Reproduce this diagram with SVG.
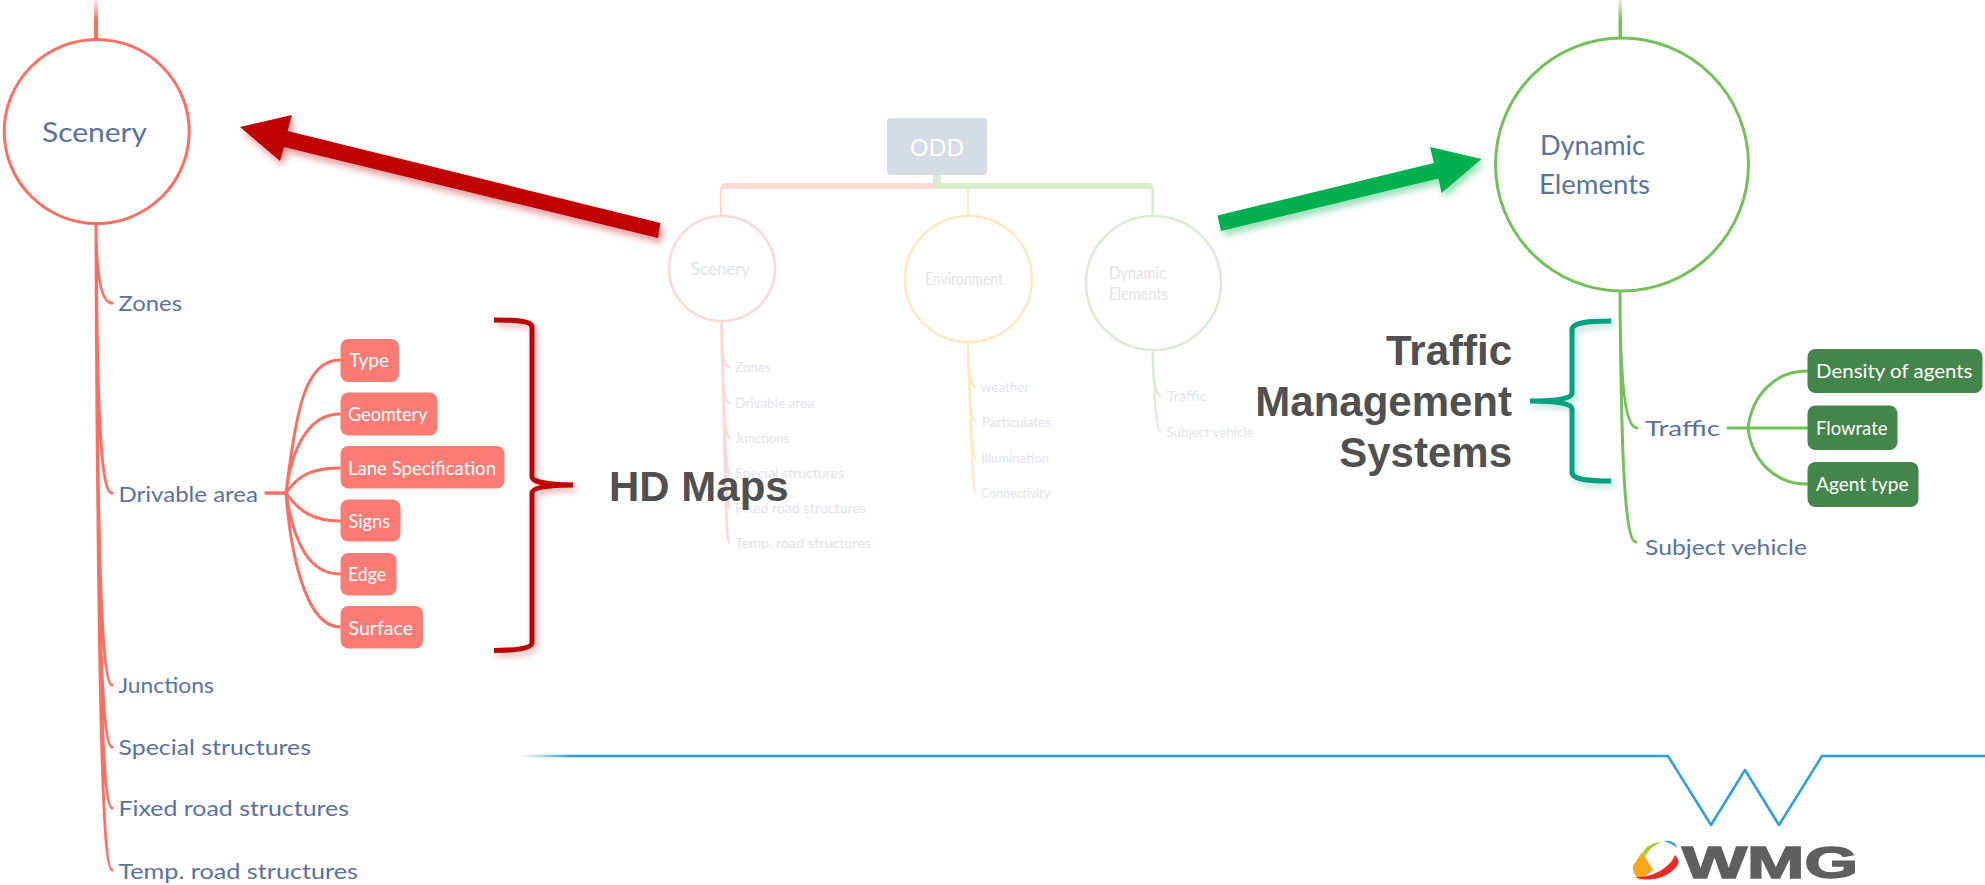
<svg xmlns="http://www.w3.org/2000/svg" width="1985" height="885" viewBox="0 0 1985 885">
<style>
text{font-family:"Lato","Open Sans","Liberation Sans",sans-serif}
.lab{font-size:22px;fill:#5a72a0}
.big{font-size:27px;fill:#5a72a0}
.boxt{font-size:20px;fill:#fff}
.faint{font-size:13.5px;fill:#dfe3ec}
.faintc{font-size:17px;fill:#dfe3ec}
.call{font-family:"Liberation Sans",Arial,sans-serif;font-size:42px;font-weight:700;fill:#505050}
.r{fill:none;stroke:#ff6f61;stroke-width:3;stroke-linecap:round}
.g{fill:none;stroke:#74c05a;stroke-width:3;stroke-linecap:round}
.pr{fill:none;stroke:#fdd8d4;stroke-width:2.5}
.py{fill:none;stroke:#fee9c0;stroke-width:2.5}
.pg{fill:none;stroke:#d9eed0;stroke-width:2.5}
.rb{fill:#fc7b74}
.gb{fill:#43854a}
</style>
<defs>
<filter id="sr" x="-10%" y="-30%" width="120%" height="170%"><feDropShadow dx="3" dy="5" stdDeviation="3.5" flood-color="#c00000" flood-opacity=".4"/></filter>
<filter id="sg" x="-10%" y="-30%" width="120%" height="170%"><feDropShadow dx="3" dy="5" stdDeviation="3.5" flood-color="#00b050" flood-opacity=".4"/></filter>
<filter id="srb" x="-30%" y="-10%" width="160%" height="120%"><feDropShadow dx="3" dy="4" stdDeviation="3" flood-color="#c00000" flood-opacity=".3"/></filter>
<filter id="st" x="-30%" y="-10%" width="160%" height="120%"><feDropShadow dx="3" dy="4" stdDeviation="3" flood-color="#00a080" flood-opacity=".3"/></filter>
<linearGradient id="fadeb" gradientUnits="userSpaceOnUse" x1="520" y1="0" x2="570" y2="0"><stop offset="0" stop-color="#2a9fe0" stop-opacity="0"/><stop offset="1" stop-color="#2a9fe0"/></linearGradient>
<linearGradient id="fader" x1="0" y1="0" x2="0" y2="1"><stop offset="0" stop-color="#ff6f61" stop-opacity=".15"/><stop offset=".5" stop-color="#ff6f61"/></linearGradient>
<linearGradient id="fadeg" x1="0" y1="0" x2="0" y2="1"><stop offset="0" stop-color="#74c05a" stop-opacity=".15"/><stop offset=".5" stop-color="#74c05a"/></linearGradient>
</defs>

<g id="connectors">
<path d="M933 183H726q-5 0-5 5v1h212z" fill="#fdd8d4"/>
<path d="M721 188V216" class="pr"/>
<path d="M933 175h8v8h207q6 0 6 6h-221z" fill="#d9eed0"/>
<path d="M1152.600 189V216" class="pg"/>
<path d="M968 189V216" class="py"/>
<path d="M721.600 321C721 350 722 367 730 367M721.600 321C722 380 723 403 730 403M721.600 321C723 400 724 438 730 438M721.600 321C724 420 725 473 730 473M721.600 321C725 440 725 508 730 508M721.600 321C725 460 725 543 730 543" class="pr"/>
<path d="M968 342C968 365 970 387 976 387M968 342C969 390 970 422 976 422M968 342C970 410 971 458 976 458M968 342C971 430 972 493 976 493" class="py"/>
<path d="M1152.600 350C1153 375 1155 396 1161 396M1152.600 350C1154 390 1156 432 1161 432" class="pg"/>
<rect x="94" y="0" width="4" height="40" fill="url(#fader)"/>
<path d="M96 224C96 270 100 303 112 303M96 224C97 400 100 493 112 493M96 224C97 500 100 685 112 685M96 224C97 560 100 747 112 747M96 224C98 620 101 808 112 808M96 224C98 680 102 870 112 870" class="r"/>
<path d="M266 493H286" class="r" style="stroke-width:3.500"/>
<path d="M286 493C296 410 305 360 340 360M286 493C292 445 310 414 340 414M286 493C298 475 312 468 340 468M286 493C298 510 312 521 340 521M286 493C294 545 310 574 340 574M286 493C292 570 310 627 340 627" class="r"/>
<rect x="1618.500" y="0" width="3.500" height="38" fill="url(#fadeg)"/>
<path d="M1620 291C1620 370 1624 428 1637 428M1620 291C1621 440 1624 542 1636 542" class="g"/>
<path d="M1728 428H1807M1748 428C1752 395 1775 371 1807 371M1748 428C1752 461 1775 484 1807 484" class="g"/>
</g>

<g id="overview-faded">
<g id="odd"><rect x="887" y="118" width="100" height="57" rx="4" fill="#d6dce6"/><text x="937" y="156" font-size="23" fill="#fff" text-anchor="middle" textLength="54" lengthAdjust="spacing">ODD</text></g>
<g id="o-scenery"><ellipse cx="722" cy="268.500" rx="53" ry="52.500" class="pr" fill="#fff"/><text x="691" y="275" class="faintc" textLength="59" lengthAdjust="spacingAndGlyphs">Scenery</text></g>
<g id="o-environment"><ellipse cx="968.500" cy="279" rx="63.500" ry="63" class="py" fill="#fff"/><text x="925" y="285" class="faintc" textLength="78" lengthAdjust="spacingAndGlyphs">Environment</text></g>
<g id="o-dynamic"><ellipse cx="1153.500" cy="283" rx="67.500" ry="67" class="pg" fill="#fff"/><text x="1109" y="279" class="faintc" textLength="57" lengthAdjust="spacingAndGlyphs">Dynamic</text><text x="1109" y="300" class="faintc" textLength="59" lengthAdjust="spacingAndGlyphs">Elements</text></g>
<g id="o-labels">
<text x="735" y="372" class="faint" textLength="36" lengthAdjust="spacingAndGlyphs">Zones</text>
<text x="735" y="408" class="faint" textLength="79" lengthAdjust="spacingAndGlyphs">Drivable area</text>
<text x="735" y="443" class="faint" textLength="54" lengthAdjust="spacingAndGlyphs">Junctions</text>
<text x="735" y="478" class="faint" textLength="109" lengthAdjust="spacingAndGlyphs">Special structures</text>
<text x="735" y="513" class="faint" textLength="131" lengthAdjust="spacingAndGlyphs">Fixed road structures</text>
<text x="735" y="548" class="faint" textLength="136" lengthAdjust="spacingAndGlyphs">Temp. road structures</text>
<text x="981" y="392" class="faint" textLength="48" lengthAdjust="spacingAndGlyphs">weather</text>
<text x="982" y="427" class="faint" textLength="69" lengthAdjust="spacingAndGlyphs">Particulates</text>
<text x="981" y="463" class="faint" textLength="68" lengthAdjust="spacingAndGlyphs">Illumination</text>
<text x="981" y="498" class="faint" textLength="69" lengthAdjust="spacingAndGlyphs">Connectivity</text>
<text x="1166.500" y="401" class="faint" textLength="40" lengthAdjust="spacingAndGlyphs">Traffic</text>
<text x="1166.500" y="437" class="faint" textLength="87" lengthAdjust="spacingAndGlyphs">Subject vehicle</text>
</g>
</g>

<g id="scenery"><ellipse cx="96.700" cy="131.500" rx="92.500" ry="92" fill="#fff" stroke="#ff6f61" stroke-width="3"/><text x="42" y="142" class="big" textLength="105" lengthAdjust="spacingAndGlyphs">Scenery</text></g>
<g id="zones"><text x="118.500" y="311" class="lab" textLength="63.500" lengthAdjust="spacingAndGlyphs">Zones</text></g>
<g id="drivable-area"><text x="118.500" y="502" class="lab" textLength="139.500" lengthAdjust="spacingAndGlyphs">Drivable area</text></g>
<g id="junctions"><text x="118.500" y="693" class="lab" textLength="95.500" lengthAdjust="spacingAndGlyphs">Junctions</text></g>
<g id="special-structures"><text x="118.500" y="755" class="lab" textLength="192.500" lengthAdjust="spacingAndGlyphs">Special structures</text></g>
<g id="fixed-road-structures"><text x="118.500" y="816" class="lab" textLength="230.500" lengthAdjust="spacingAndGlyphs">Fixed road structures</text></g>
<g id="temp-road-structures"><text x="118.500" y="879" class="lab" textLength="239.500" lengthAdjust="spacingAndGlyphs">Temp. road structures</text></g>

<g id="type"><rect x="340.500" y="339" width="58.500" height="43" rx="8" class="rb"/><text x="349" y="367" class="boxt" textLength="40" lengthAdjust="spacingAndGlyphs">Type</text></g>
<g id="geomtery"><rect x="340.500" y="392.500" width="97" height="43" rx="8" class="rb"/><text x="348" y="421" class="boxt" textLength="79.500" lengthAdjust="spacingAndGlyphs">Geomtery</text></g>
<g id="lane-specification"><rect x="340.500" y="446" width="164" height="42.500" rx="8" class="rb"/><text x="348" y="475" class="boxt" textLength="148" lengthAdjust="spacingAndGlyphs">Lane Specification</text></g>
<g id="signs"><rect x="340.500" y="499.500" width="60" height="42" rx="8" class="rb"/><text x="348.500" y="528" class="boxt" textLength="41.500" lengthAdjust="spacingAndGlyphs">Signs</text></g>
<g id="edge"><rect x="340.500" y="553" width="56" height="42.500" rx="8" class="rb"/><text x="348" y="581" class="boxt" textLength="38" lengthAdjust="spacingAndGlyphs">Edge</text></g>
<g id="surface"><rect x="340.500" y="606" width="82.500" height="42.500" rx="8" class="rb"/><text x="348.500" y="635" class="boxt" textLength="64.500" lengthAdjust="spacingAndGlyphs">Surface</text></g>

<g id="dynamic-elements"><ellipse cx="1622" cy="164.500" rx="126.500" ry="126.500" fill="#fff" stroke="#74c05a" stroke-width="3"/><text x="1540" y="155" class="big" textLength="105" lengthAdjust="spacingAndGlyphs">Dynamic</text><text x="1539" y="194" class="big" textLength="111" lengthAdjust="spacingAndGlyphs">Elements</text></g>
<g id="traffic"><text x="1645" y="436" class="lab" textLength="75" lengthAdjust="spacingAndGlyphs">Traffic</text></g>
<g id="subject-vehicle"><text x="1645" y="555" class="lab" textLength="162" lengthAdjust="spacingAndGlyphs">Subject vehicle</text></g>
<g id="density-of-agents"><rect x="1807.500" y="349" width="175" height="44" rx="8" class="gb"/><text x="1816" y="378" class="boxt" textLength="156.500" lengthAdjust="spacingAndGlyphs">Density of agents</text></g>
<g id="flowrate"><rect x="1807.500" y="405.500" width="90" height="44.500" rx="8" class="gb"/><text x="1816" y="435" class="boxt" textLength="71.500" lengthAdjust="spacingAndGlyphs">Flowrate</text></g>
<g id="agent-type"><rect x="1807.500" y="462" width="111" height="45" rx="8" class="gb"/><text x="1816" y="491" class="boxt" textLength="92.500" lengthAdjust="spacingAndGlyphs">Agent type</text></g>

<g id="footer">
<path d="M570 756H1668L1711 825L1745 770L1779 825L1822 756H1985" fill="none" stroke="#2a9fe0" stroke-width="2.500" stroke-linejoin="round"/>
<rect x="520" y="754.750" width="50" height="2.500" fill="url(#fadeb)"/>
</g>
<g id="wmg-logo">
<path d="M1633 866L1642 852L1653 870L1640 880Q1632 874 1633 866Z" fill="#faa61a"/>
<path d="M1635 877C1652 878 1670 868 1675 855Q1680 860 1678 864C1672 876 1650 884 1635 877Z" fill="#ee2a24"/>
<path d="M1643 853C1644 848 1652 842 1662 842C1656 844 1650 847 1645 857Z" fill="#a4cf1f"/>
<path d="M1664 841C1670 840 1676 842 1677 848C1675 846 1670 843 1664 841Z" fill="#2a9fe0"/>
<text x="1682" y="877.500" font-size="45" style="font-family:'Liberation Sans',Arial,sans-serif;font-weight:700" fill="#5f5f5f" stroke="#5f5f5f" stroke-width="1.500" textLength="176" lengthAdjust="spacingAndGlyphs">WMG</text>
</g>

<g id="annotations">
<path d="M660.400 223L658 238L284 147L280 161L240 127L292 115L287.500 131Z" fill="#c00000" filter="url(#sr)"/>
<path d="M1217.500 215.500L1221 231L1438.500 178.500L1441.500 193L1481.500 159L1430 147L1434 163Z" fill="#00b050" filter="url(#sg)"/>
<path d="M494 320C512 320 532 320 532 327V477C532 481 545 485 573 485C545 485 532 488 532 493V643C532 649 512 650.500 494 650.500" fill="none" stroke="#c00000" stroke-width="5" stroke-linecap="butt" filter="url(#srb)"/>
<path d="M1611 321C1590 321 1572 322 1572 330V393C1572 398 1560 401 1530 401C1560 401 1572 404 1572 409V472C1572 480 1590 481 1611 481" fill="none" stroke="#00a080" stroke-width="5" filter="url(#st)"/>
<text x="609" y="501" class="call">HD Maps</text>
<text x="1512" y="365" class="call" text-anchor="end">Traffic</text>
<text x="1512" y="416" class="call" text-anchor="end">Management</text>
<text x="1512" y="467" class="call" text-anchor="end">Systems</text>
</g>
</svg>
